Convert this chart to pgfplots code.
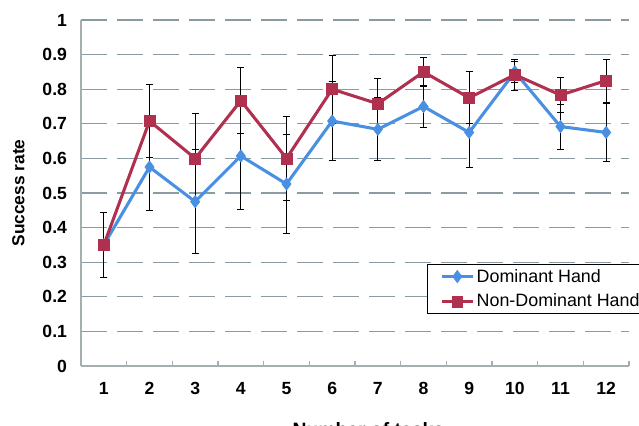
\documentclass[border=0pt]{standalone}
\usepackage{pgfplots}
\pgfplotsset{compat=1.18}
\usepackage{fontspec}
\setmainfont{Liberation Sans}
\definecolor{dblue}{RGB}{74,144,226}
\definecolor{ndred}{RGB}{176,48,80}
\definecolor{gridc}{RGB}{138,155,161}
\definecolor{axc}{RGB}{165,175,178}

\pgfplotstableread{
x y e
1 0.350 0.095
2 0.575 0.125
3 0.475 0.150
4 0.607 0.154
5 0.526 0.143
6 0.708 0.115
7 0.684 0.091
8 0.750 0.060
9 0.675 0.100
10 0.850 0.031
11 0.692 0.065
12 0.675 0.083
}\dominant

\pgfplotstableread{
x y e
1 0.350 0.095
2 0.708 0.105
3 0.600 0.131
4 0.767 0.095
5 0.600 0.122
6 0.800 0.098
7 0.758 0.074
8 0.850 0.043
9 0.775 0.075
10 0.842 0.045
11 0.783 0.050
12 0.825 0.062
}\nondominant

\begin{document}
\begin{tikzpicture}
\begin{axis}[
  scale only axis, width=411pt, height=259.5pt,
  xmin=0.5, xmax=12.5, ymin=0, ymax=1,
  axis x line*=bottom, axis y line*=left,
  axis line style={draw=axc, line width=1pt},
  xtick={1,2,3,4,5,6,7,8,9,10,11,12},
  ytick={0,0.1,0.2,0.3,0.4,0.5,0.6,0.7,0.8,0.9,1},
  minor xtick={0.5,1.5,2.5,3.5,4.5,5.5,6.5,7.5,8.5,9.5,10.5,11.5,12.5},
  major tick length=0pt, minor tick length=4pt,
  tick align=inside,
  minor tick style={draw=axc, line width=1pt},
  ymajorgrids,
  major grid style={draw=gridc, line width=1pt, dash pattern=on 19.5pt off 7.5pt},
  /pgf/number format/assume math mode=true,
  ticklabel style={font=\fontsize{13.2}{15}\selectfont\bfseries},
  yticklabel style={xshift=-7pt},
  xticklabel style={yshift=-8.5pt},
  yticklabel={\pgfmathprintnumber[fixed,precision=1]{\tick}},
  xlabel={Number of tasks},
  ylabel={Success rate},
  every axis x label/.style={at={(axis description cs:0.5,0)}, anchor=north, yshift=-42pt, xshift=10pt, inner sep=0pt, font=\fontsize{14.5}{17}\selectfont\bfseries},
  every axis y label/.style={at={(axis description cs:-0.1144,0.5)}, rotate=90, anchor=center, inner sep=0pt, font=\fontsize{13}{15}\selectfont\bfseries},
  legend style={at={(axis description cs:0.631,0.295)}, anchor=north west, draw=black, line width=0.75pt,
    font=\fontsize{13.4}{16}\selectfont, inner xsep=10pt, inner ysep=1.5pt, row sep=3.5pt,
    legend cell align=left},
  legend image code/.code={\draw[mark repeat=2, mark phase=2, #1] plot coordinates {(0cm,0cm) (0.4cm,0cm) (0.8cm,0cm)};},
]
\addplot[color=dblue, line width=2.3pt, mark=diamond*, mark size=4.6pt, mark options={solid, fill=dblue, draw=dblue, line width=0.5pt},
  error bars/.cd, y dir=both, y explicit,
  error bar style={black, line width=0.75pt},
  error mark options={rotate=90, black, mark size=2.6pt, line width=0.75pt}]
  table[x=x, y=y, y error=e] {\dominant};
\addlegendentry{Dominant Hand}
\addplot[color=ndred, line width=2.3pt, mark=square*, mark size=4.1pt, mark options={solid, fill=ndred, draw=ndred, line width=0.5pt},
  error bars/.cd, y dir=both, y explicit,
  error bar style={black, line width=0.75pt},
  error mark options={rotate=90, black, mark size=2.6pt, line width=0.75pt}]
  table[x=x, y=y, y error=e] {\nondominant};
\addlegendentry{Non-Dominant Hand}
\end{axis}
\pgfresetboundingbox
\path[use as bounding box] ([xshift=-60.75pt,yshift=-44.25pt]current axis.south west) rectangle ([xshift=7.5pt,yshift=15pt]current axis.north east);
\end{tikzpicture}
\end{document}
